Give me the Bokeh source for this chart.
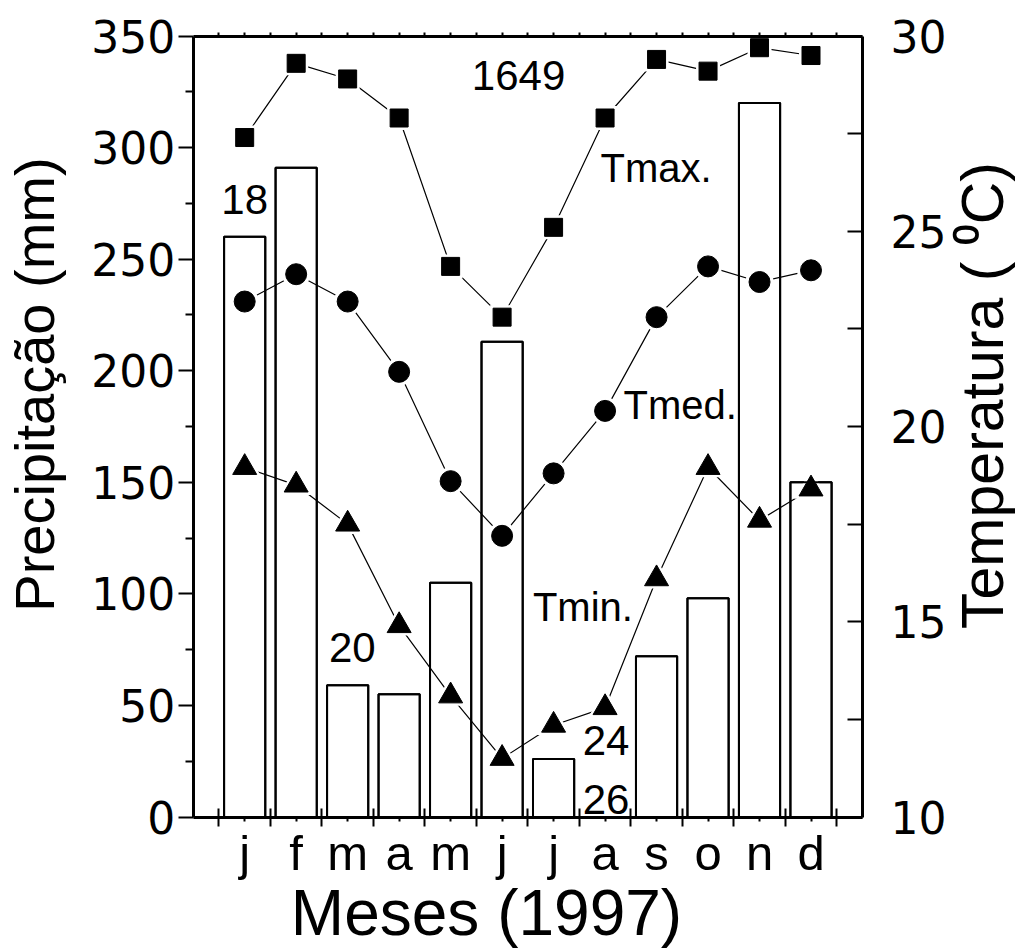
from bokeh.plotting import figure
from bokeh.models import Range1d, LinearAxis, FixedTicker, Label
from bokeh.core.properties import value
from bokeh.embed import file_html
from bokeh.resources import INLINE
import math

# ---------------- data ----------------
months = ["j", "f", "m", "a", "m", "j", "j", "a", "s", "o", "n", "d"]
month_pos = [1, 2, 3, 4, 5, 6, 7, 8, 9, 10, 11, 12]
precip_mm = [260, 291, 59, 55, 105, 213, 26, 0, 72, 98, 320, 150]
tmax = [27.4, 29.3, 28.9, 27.9, 24.1, 22.8, 25.1, 27.9, 29.4, 29.1, 29.7, 29.5]
tmed = [23.2, 23.9, 23.2, 21.4, 18.6, 17.2, 18.8, 20.4, 22.8, 24.1, 23.7, 24.0]
tmin = [18.95, 18.5, 17.5, 14.9, 13.1, 11.5, 12.35, 12.8, 16.1, 18.95, 17.6, 18.4]

num_labels = ["1649", "18", "20", "24", "26"]
series_labels = ["Tmax.", "Tmed.", "Tmin."]
x_title = "Meses (1997)"
y_title = "Precipitação (mm)"
y2_title = "Temperatura ( \u2070C)"

# ---------------- layout ----------------
W, H = 1018, 949
AX_LEFT, AX_RIGHT = 192.7, 862.0        # pixel x of the y axes
AX_TOP, AX_BOTTOM = 35.5, 816.5         # pixel y of 350 mm / 0 mm
X_SCALE = (AX_RIGHT - AX_LEFT) / 13.0
Y_SCALE = (AX_BOTTOM - AX_TOP) / 350.0
T_SCALE = (AX_BOTTOM - AX_TOP) / 20.0

def xd(px):
    return (px - AX_LEFT) / X_SCALE

def yd(py):
    return (AX_BOTTOM - py) / Y_SCALE

def td(py):
    return 10 + (AX_BOTTOM - py) / T_SCALE

# text centres (middle baseline)
num_label_x = [6.32, 1.0, 3.09, 8.02, 8.02]
num_label_y = [332.2, 276.6, 75.9, 34.5, 7.9]
series_label_x = [8.99, 9.46, 7.57]
series_label_y = [290.7, 184.7, 94.3]

FONT = "Liberation Sans"
TICKFONT = "DejaVu Sans"

p = figure(width=W, height=H,
           x_range=Range1d(xd(0), xd(W)),
           y_range=Range1d(yd(H), yd(0)),
           x_axis_type=None, y_axis_type=None,
           output_backend="svg", toolbar_location=None,
           min_border_left=0, min_border_right=0,
           min_border_top=0, min_border_bottom=0)
p.extra_y_ranges = {"temp": Range1d(td(H), td(0))}
p.outline_line_color = None
p.background_fill_color = "white"
p.border_fill_color = "white"

# bottom axis (at 0 mm): month labels, long crossing ticks between months
xb = LinearAxis(
    fixed_location=0, bounds=(0, 13),
    ticker=FixedTicker(ticks=month_pos, minor_ticks=[i + 0.5 for i in range(13)]),
    major_label_overrides={m: lab for m, lab in zip(month_pos, months)},
)
xb.major_label_text_font = FONT
xb.major_label_text_font_size = "49px"
xb.major_label_text_color = "black"
xb.major_label_standoff = 0
xb.major_tick_in = 0
xb.major_tick_out = 4
xb.minor_tick_in = 9
xb.minor_tick_out = 9
xb.axis_line_width = 3
xb.major_tick_line_width = 2
xb.minor_tick_line_width = 2
p.add_layout(xb, "below")

# top axis (at 350 mm): small ticks only
xt = LinearAxis(fixed_location=350, bounds=(0, 13),
                ticker=FixedTicker(ticks=[], minor_ticks=[0.5 * i for i in range(1, 26)]))
xt.minor_tick_in = 0
xt.minor_tick_out = 4
xt.major_tick_in = 0
xt.major_tick_out = 0
xt.axis_line_width = 3
xt.minor_tick_line_width = 2
p.add_layout(xt, "above")

# left axis: precipitation (at month 0)
yl = LinearAxis(fixed_location=0, bounds=(0, 350),
                ticker=FixedTicker(ticks=[0, 50, 100, 150, 200, 250, 300, 350],
                                   minor_ticks=[25, 75, 125, 175, 225, 275, 325]))
yl.major_label_text_font = TICKFONT
yl.major_label_text_font_size = "44px"
yl.major_label_text_color = "black"
yl.major_label_standoff = 3
yl.major_tick_in = 0
yl.major_tick_out = 15
yl.minor_tick_in = 0
yl.minor_tick_out = 8
yl.axis_line_width = 3
yl.major_tick_line_width = 2
yl.minor_tick_line_width = 2
p.add_layout(yl, "left")

# right axis: temperature (at month 13)
yr = LinearAxis(y_range_name="temp", fixed_location=13, bounds=(10, 30),
                ticker=FixedTicker(ticks=[10, 15, 20, 25, 30],
                                   minor_ticks=[12.5, 17.5, 22.5, 27.5]))
yr.major_label_text_font = TICKFONT
yr.major_label_text_font_size = "44px"
yr.major_label_text_color = "black"
yr.major_label_standoff = 28
yr.major_tick_in = 15
yr.major_tick_out = 0
yr.minor_tick_in = 15
yr.minor_tick_out = 0
yr.axis_line_width = 3
yr.major_tick_line_width = 2
yr.minor_tick_line_width = 2
p.add_layout(yr, "right")

# bars
p.vbar(x=month_pos, top=precip_mm, bottom=0, width=0.8,
       fill_color="white", line_color="black", line_width=2)

# connecting lines
for ys in (tmax, tmed, tmin):
    p.line(month_pos, ys, line_color="black", line_width=1.2, y_range_name="temp")

# white halos to leave gaps between lines and markers
p.scatter(month_pos, tmax, marker="square", size=24, fill_color="white",
          line_color=None, y_range_name="temp")
p.scatter(month_pos, tmed, marker="circle", size=28, fill_color="white",
          line_color=None, y_range_name="temp")
p.scatter(month_pos, tmin, marker="triangle", size=34, fill_color="white",
          line_color=None, y_range_name="temp")

# bar outlines again (over halos)
p.vbar(x=month_pos, top=precip_mm, bottom=0, width=0.8,
       fill_color=None, line_color="black", line_width=2)

# markers
p.scatter(month_pos, tmax, marker="square", size=18, fill_color="black",
          line_color="black", y_range_name="temp")
p.scatter(month_pos, tmed, marker="circle", size=21, fill_color="black",
          line_color="black", y_range_name="temp")
p.scatter(month_pos, tmin, marker="triangle", size=24, fill_color="black",
          line_color="black", y_range_name="temp")

# annotations inside the plot
p.text(x=num_label_x, y=num_label_y, text=num_labels,
       text_font=value(FONT), text_font_size="42px", text_color="black",
       text_align="center", text_baseline="middle")
p.text(x=series_label_x, y=series_label_y, text=series_labels,
       text_font=value(FONT), text_font_size="40px", text_color="black",
       text_align="center", text_baseline="middle")

# axis titles
p.add_layout(Label(x=xd(486), y=yd(912), text=x_title,
                   text_font=FONT, text_font_size="64px", text_color="black",
                   text_align="center", text_baseline="middle"))
p.add_layout(Label(x=xd(34), y=yd(384), text=y_title, angle=math.pi / 2,
                   text_font=FONT, text_font_size="56px", text_color="black",
                   text_align="center", text_baseline="middle"))
p.add_layout(Label(x=xd(982), y=yd(395), text=y2_title, angle=math.pi / 2,
                   text_font=FONT, text_font_size="59px", text_color="black",
                   text_align="center", text_baseline="middle"))

open("out.html", "w").write(file_html(p, INLINE))
